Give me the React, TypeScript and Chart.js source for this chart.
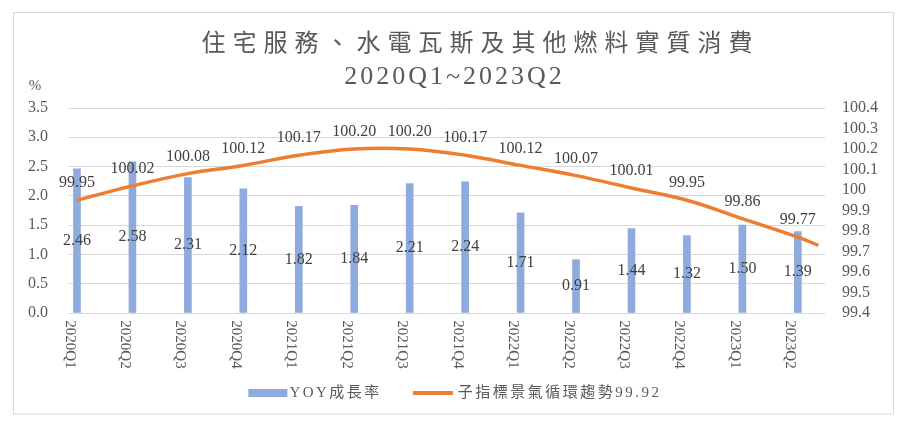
import React, { useEffect, useRef } from 'react';
import { Chart, registerables } from 'chart.js';

Chart.register(...registerables);

const titleLines = ['住宅服務、水電瓦斯及其他燃料實質消費', '2020Q1~2023Q2'];
const categories = [
  '2020Q1', '2020Q2', '2020Q3', '2020Q4',
  '2021Q1', '2021Q2', '2021Q3', '2021Q4',
  '2022Q1', '2022Q2', '2022Q3', '2022Q4',
  '2023Q1', '2023Q2',
];
const yoyValues = [2.46, 2.58, 2.31, 2.12, 1.82, 1.84, 2.21, 2.24, 1.71, 0.91, 1.44, 1.32, 1.5, 1.39];
const trendValues = [99.95, 100.02, 100.08, 100.12, 100.17, 100.2, 100.2, 100.17, 100.12, 100.07, 100.01, 99.95, 99.86, 99.77];
// the smoothed trend line runs on past the last quarter to the plot edge
const trendTailX = 13.37;
const trendTailValue = 99.73;
const yoyLabel = 'YOY成長率';
const trendLabel = '子指標景氣循環趨勢99.92';
const leftUnit = '%';
const leftAxisRange = [0, 3.5];
const leftAxisStep = 0.5;
const rightAxisRange = [99.4, 100.4];
const rightAxisStep = 0.1;

const SERIF = "'Liberation Serif', 'Times New Roman', 'Noto Sans CJK TC', serif";
const TEXT = '#595959';
const BAR = '#8FAADC';
const LINE = '#ED7D31';

const decorPlugin = {
  id: 'decor',
  beforeDraw(chart: any) {
    const ctx = chart.ctx;
    ctx.save();
    ctx.fillStyle = '#ffffff';
    ctx.fillRect(0, 0, chart.width, chart.height);
    ctx.strokeStyle = '#d9d9d9';
    ctx.lineWidth = 1;
    ctx.strokeRect(5.5, 4.5, 880, 401.5);
    ctx.restore();
  },
  afterDatasetsDraw(chart: any) {
    const ctx = chart.ctx;
    ctx.save();
    ctx.fillStyle = '#404040';
    ctx.font = `16px ${SERIF}`;
    ctx.textAlign = 'center';
    ctx.textBaseline = 'middle';
    const barMeta = chart.getDatasetMeta(0);
    barMeta.data.forEach((el: any, i: number) => {
      const p = el.getProps(['x', 'y', 'base'], true);
      ctx.fillText(yoyValues[i].toFixed(2), p.x, (p.y + p.base) / 2);
    });
    const lineMeta = chart.getDatasetMeta(1);
    lineMeta.data.forEach((el: any, i: number) => {
      if (i >= trendValues.length) return;
      ctx.fillText(trendValues[i].toFixed(2), el.x, el.y - 17);
    });
    ctx.restore();
  },
  afterDraw(chart: any) {
    const ctx = chart.ctx;
    ctx.save();
    ctx.fillStyle = TEXT;
    ctx.textAlign = 'center';
    ctx.textBaseline = 'middle';
    // title
    ctx.font = `24px ${SERIF}`;
    (ctx as any).letterSpacing = '7px';
    ctx.fillText(titleLines[0], 469 + 3.5, 37);
    ctx.font = `26px ${SERIF}`;
    (ctx as any).letterSpacing = '3px';
    ctx.fillText(titleLines[1], 445 + 1.5, 69);
    (ctx as any).letterSpacing = '0px';
    // unit
    ctx.font = `15px ${SERIF}`;
    ctx.fillText(leftUnit, 27, 78);
    // category labels, rotated clockwise
    const xs = chart.scales.x;
    ctx.font = `15px ${SERIF}`;
    categories.forEach((c, i) => {
      const x = xs.getPixelForValue(i) - 7.5;
      ctx.save();
      ctx.translate(x, 336.5);
      ctx.rotate(Math.PI / 2);
      ctx.fillText(c, 0, 0);
      ctx.restore();
    });
    // legend
    const ds = chart.data.datasets;
    ctx.font = `15px ${SERIF}`;
    (ctx as any).letterSpacing = '2.5px';
    ctx.textAlign = 'left';
    const w1 = ctx.measureText(ds[0].label).width;
    const w2 = ctx.measureText(ds[1].label).width;
    const total = 39 + 2 + w1 + 31 + 40 + 5 + w2;
    let lx = 447 - total / 2;
    const ly = 385;
    ctx.fillStyle = ds[0].backgroundColor;
    ctx.fillRect(lx, ly - 4, 39, 8);
    lx += 41;
    ctx.fillStyle = TEXT;
    ctx.fillText(ds[0].label, lx, ly);
    lx += w1 + 31;
    ctx.strokeStyle = ds[1].borderColor;
    ctx.lineWidth = 4;
    ctx.beginPath();
    ctx.moveTo(lx, ly);
    ctx.lineTo(lx + 40, ly);
    ctx.stroke();
    lx += 45;
    ctx.fillText(ds[1].label, lx, ly);
    (ctx as any).letterSpacing = '0px';
    ctx.restore();
  },
};

export default function App() {
  const ref = useRef<HTMLCanvasElement>(null);
  useEffect(() => {
    const chart = new Chart(ref.current as HTMLCanvasElement, {
      type: 'bar',
      data: {
        datasets: [
          {
            type: 'bar',
            label: yoyLabel,
            data: yoyValues.map((v, i) => ({ x: i, y: v })),
            backgroundColor: BAR,
            borderWidth: 0,
            barThickness: 7,
            yAxisID: 'y',
            xAxisID: 'x',
            order: 1,
          } as any,
          {
            type: 'line',
            label: trendLabel,
            data: [
              ...trendValues.map((v, i) => ({ x: i, y: v })),
              { x: trendTailX, y: trendTailValue },
            ],
            borderColor: LINE,
            backgroundColor: LINE,
            borderWidth: 3.5,
            pointRadius: 0,
            tension: 0.4,
            yAxisID: 'y1',
            xAxisID: 'x',
            order: 0,
          } as any,
        ],
      },
      options: {
        animation: false,
        responsive: true,
        maintainAspectRatio: false,
        layout: { padding: { top: 100, bottom: 42, left: 0, right: 0 } },
        plugins: {
          title: { display: false },
          tooltip: { enabled: false },
          legend: { display: false },
        },
        scales: {
          x: {
            type: 'linear',
            offset: false,
            min: -0.162,
            max: 13.49,
            ticks: { display: false },
            grid: { display: false, offset: false },
            border: { display: false },
            afterFit: (s: any) => {
              s.height = 60;
            },
          },
          y: {
            type: 'linear',
            position: 'left',
            min: leftAxisRange[0],
            max: leftAxisRange[1],
            ticks: {
              stepSize: leftAxisStep,
              autoSkip: false,
              color: TEXT,
              font: { size: 16, family: SERIF },
              padding: 20,
              callback: (v: any) => Number(v).toFixed(1),
            },
            grid: { color: '#d9d9d9', drawTicks: false, lineWidth: 1 },
            border: { display: false },
            afterFit: (s: any) => {
              s.width = 60;
            },
          },
          y1: {
            type: 'linear',
            position: 'right',
            min: rightAxisRange[0],
            max: rightAxisRange[1],
            ticks: {
              stepSize: rightAxisStep,
              autoSkip: false,
              color: TEXT,
              font: { size: 16, family: SERIF },
              padding: 17,
              callback: (v: any) => String(Math.round(Number(v) * 10) / 10),
            },
            grid: { display: false, drawTicks: false },
            border: { display: false },
            afterFit: (s: any) => {
              s.width = 82;
            },
          },
        },
      },
      plugins: [decorPlugin],
    } as any);
    return () => chart.destroy();
  }, []);
  return (
    <div style={{ width: 899, height: 407, position: 'relative' }}>
      <canvas ref={ref} />
    </div>
  );
}
